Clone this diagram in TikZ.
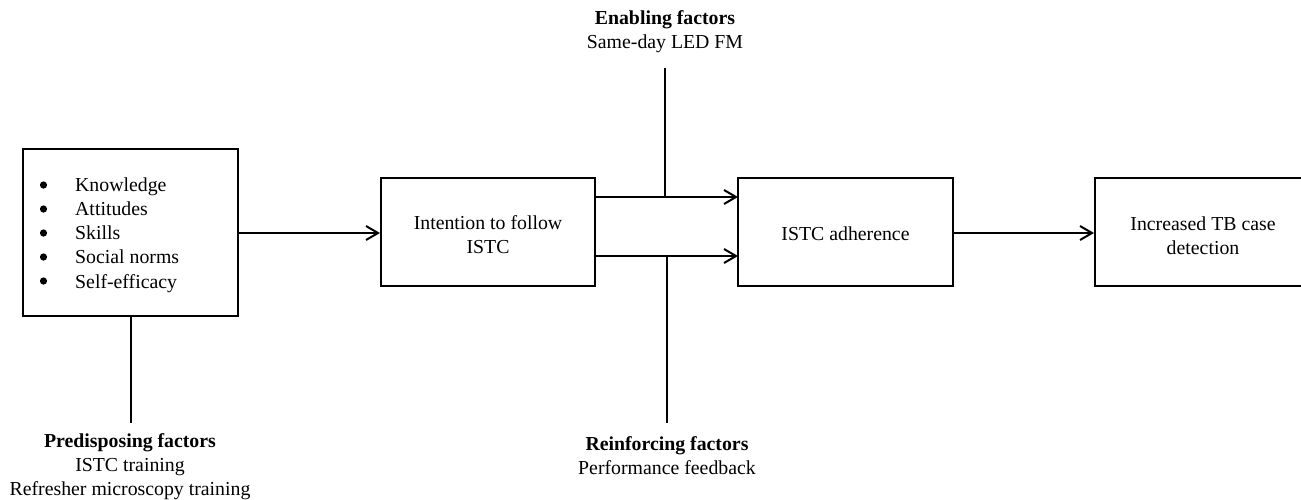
\documentclass[tikz,border=0pt]{standalone}
\usepackage{fontspec}
\setmainfont{Liberation Serif}
\usetikzlibrary{arrows.meta}
\begin{document}
\begin{tikzpicture}[x=1pt,y=-1pt,
  every node/.style={font=\fontsize{19.8}{24.2}\selectfont},
  box/.style={draw,line width=2pt,minimum height=108pt,inner sep=0pt,align=center},
  lbl/.style={align=center,inner sep=0pt},
  ln/.style={line width=2pt},
  dot/.style={fill=black},
  arr/.style={line width=2pt,-{Straight Barb[length=12pt,width=14pt,line width=2pt]}}]
\useasboundingbox (0,0) rectangle (1301,499);
\clip (0,0) rectangle (1301,499);
\node[box,minimum height=167pt,minimum width=215pt] (know) at (130.5,232.5) {};
\node[lbl,align=left,anchor=west] (list) at (75,235)
  {Knowledge\\
   Attitudes\\
   Skills\\
   Social norms\\
   Self-efficacy};
\foreach \yy in {185,209,233,257,281} \fill[dot] (43.5,\yy) circle (3.6pt);
\node[box,minimum width=214pt] (intent) at (488,232) {};
\node[lbl] (intenttext) at (488,234.5) {Intention to follow\\ISTC};
\node[box,minimum width=215pt] (adh) at (845.5,232) {};
\node[lbl] (adhtext) at (845.5,234) {ISTC adherence};
\node[box,minimum width=210pt] (inc) at (1200,232) {};
\node[lbl] (inctext) at (1203,236) {Increased TB case\\detection};
\node[lbl] (enab) at (665,32) {\textbf{Enabling factors}\\Same-day LED FM};
\node[lbl] (reinf) at (667,456) {\textbf{Reinforcing factors}\\Performance feedback};
\node[lbl] (pred) at (130,466.5) {\textbf{Predisposing factors}\\ISTC training\\Refresher microscopy training};
\coordinate (enabtop) at (665,68);
\coordinate (reinfbot) at (667,423);
\coordinate (predbot) at (131,423);
\coordinate (upL) at (595,197);
\coordinate (upR) at (738,197);
\coordinate (loL) at (595,256);
\coordinate (loR) at (738,256);
\draw[arr] (know.east |- 0,233) -- (intent.west |- 0,233);
\draw[arr] (upL) -- (upR);
\draw[arr] (loL) -- (loR);
\draw[arr] (adh.east |- 0,233) -- (inc.west |- 0,233);
\draw[ln] (enabtop) -- (enabtop |- upL);
\draw[ln] (reinfbot) -- (reinfbot |- loL);
\draw[ln] (predbot) -- (predbot |- know.south);
\end{tikzpicture}
\end{document}
